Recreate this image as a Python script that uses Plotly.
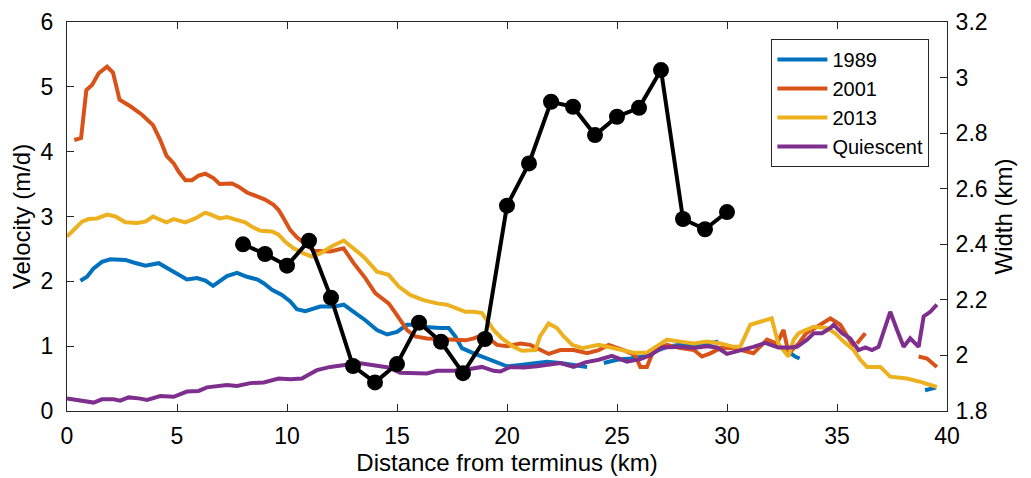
import plotly.graph_objects as go

# ---- data ----
x1989 = [0.61, 0.91, 1.21, 1.59, 1.97, 2.65, 3.03, 3.56, 4.17, 4.7, 5.08, 5.45, 5.91, 6.29, 6.64, 6.97,
         7.27, 7.73, 8.18, 8.64, 8.94, 9.32, 9.77, 10.15, 10.45, 10.83, 11.06, 11.51, 12.12, 12.58, 13.03,
         13.56, 14.09, 14.55, 15.0, 15.45, 15.9, 16.44, 16.97, 17.35, 17.65, 17.95, 18.49, 19.09, 19.55,
         20.0, 20.6, 21.21, 21.82, 22.42, 23.03, 23.64, 24.0, 24.4, 25.0, 25.6, 26.2, 26.74, 27.27, 27.88,
         28.5, 29.09, 29.6, 31.0, 32.9, 33.1, 33.3, 36.0, 39.0, 39.25, 39.5]
v1989 = [2.01, 2.07, 2.20, 2.30, 2.34, 2.33, 2.29, 2.24, 2.28, 2.18, 2.10, 2.03, 2.05, 2.01, 1.93, 2.00,
         2.08, 2.13, 2.07, 2.03, 1.97, 1.87, 1.79, 1.69, 1.57, 1.54, 1.56, 1.61, 1.61, 1.64, 1.53,
         1.40, 1.25, 1.18, 1.22, 1.33, 1.33, 1.29, 1.28, 1.28, 1.15, 0.97, 0.89, 0.81, 0.74,
         0.69, 0.71, 0.73, 0.76, 0.74, 0.71, 0.68, None, 0.74, 0.79, 0.81, 0.84, 0.92, 0.99, 1.02,
         1.02, 1.04, 1.07, None, 0.89, 0.84, 0.81, None, 0.32, 0.34, 0.36]

x2001 = [0.33, 0.64, 0.88, 1.14, 1.44, 1.82, 2.09, 2.39, 2.88, 3.41, 3.91, 4.24, 4.52, 4.85, 5.08, 5.38,
         5.68, 5.98, 6.29, 6.67, 6.94, 7.5, 7.8, 8.18, 8.64, 9.0, 9.39, 9.62, 9.85, 10.15, 10.45, 10.9,
         11.21, 11.97, 12.57, 13.03, 13.56, 14.01, 14.62, 15.0, 15.45, 15.83, 16.36, 16.97, 17.58, 18.11,
         18.49, 18.86, 19.24, 19.55, 20.0, 20.6, 21.06, 21.5, 21.9, 22.42, 23.03, 23.64, 24.17, 24.62,
         25.3, 25.83, 26.06, 26.36, 26.67, 27.27, 27.88, 28.5, 28.86, 29.24, 29.7, 30.3, 30.9, 31.2, 31.82,
         32.27, 32.57, 32.8, 33.25, 33.6, 34.09, 34.7, 35.15, 35.45, 35.76, 35.83, 35.9, 36.29, 37.0,
         38.71, 39.09, 39.54]
v2001 = [4.18, 4.21, 4.95, 5.03, 5.21, 5.31, 5.22, 4.80, 4.70, 4.57, 4.41, 4.18, 3.94, 3.82, 3.69, 3.56,
         3.56, 3.63, 3.66, 3.59, 3.50, 3.51, 3.46, 3.37, 3.31, 3.26, 3.18, 3.10, 2.97, 2.79, 2.68, 2.56,
         2.47, 2.46, 2.51, 2.28, 2.05, 1.82, 1.66, 1.48, 1.25, 1.15, 1.12, 1.11, 1.10, 1.09,
         1.12, 1.17, 1.10, 1.02, 1.00, 1.04, 1.02, 0.94, 0.88, 0.94, 0.94, 0.89, 0.94, 1.02,
         0.94, 0.86, 0.68, 0.68, 0.94, 1.02, 0.97, 0.94, 0.84, 0.89, 0.97, 0.97, 0.92, 0.89, 1.10,
         1.04, 1.25, 0.89, 1.04, 1.20, 1.30, 1.43, 1.33, 1.15, 0.99, None, 1.04, 1.20, None,
         0.84, 0.81, 0.68]

x2013 = [0.0, 0.3, 0.68, 0.98, 1.36, 1.82, 2.2, 2.65, 3.18, 3.56, 3.91, 4.24, 4.52, 4.85, 5.38, 5.83,
         6.29, 6.59, 6.94, 7.27, 7.65, 8.1, 8.41, 8.79, 9.32, 9.62, 9.92, 10.3, 10.76, 11.13, 11.51, 12.04,
         12.58, 13.03, 13.48, 14.09, 14.62, 15.08, 15.6, 16.2, 16.82, 17.27, 17.73, 18.11, 18.49, 18.86,
         19.09, 19.39, 19.77, 20.3, 20.68, 21.29, 21.5, 21.89, 22.27, 22.58, 22.97, 23.42, 24.17, 24.77,
         25.3, 25.76, 26.36, 26.74, 27.27, 27.88, 28.5, 29.09, 29.7, 30.3, 30.6, 31.06, 31.5, 32.03, 32.33,
         32.79, 33.03, 33.26, 33.94, 34.55, 34.92, 35.3, 35.76, 36.06, 36.36, 36.97, 37.42, 38.18, 38.79,
         39.54]
v2013 = [2.69, 2.79, 2.92, 2.96, 2.97, 3.03, 3.00, 2.91, 2.90, 2.92, 3.00, 2.95, 2.91, 2.96, 2.91, 2.97,
         3.06, 3.02, 2.97, 2.99, 2.96, 2.91, 2.84, 2.78, 2.77, 2.72, 2.61, 2.51, 2.43, 2.38, 2.43, 2.54,
         2.63, 2.51, 2.38, 2.15, 2.10, 1.92, 1.79, 1.71, 1.66, 1.64, 1.58, 1.53, 1.53, 1.51,
         1.40, 1.25, 1.12, 0.99, 0.93, 0.94, 1.15, 1.35, 1.28, 1.15, 1.02, 0.97, 1.02, 0.97,
         0.94, 0.90, 0.90, 0.99, 1.10, 1.07, 1.04, 1.07, 1.04, 0.99, 0.99, 1.33, 1.38, 1.43, 1.04,
         0.84, 1.10, 1.20, 1.30, 1.28, 1.20, 1.07, 0.94, 0.79, 0.68, 0.68, 0.53, 0.50, 0.45,
         0.37]

xq = [0.0, 0.61, 1.21, 1.59, 2.12, 2.42, 2.8, 3.26, 3.64, 4.24, 4.85, 5.45, 5.98, 6.36, 6.82, 7.27, 7.73,
      8.33, 8.94, 9.62, 10.15, 10.68, 10.98, 11.36, 11.97, 12.58, 13.26, 13.86, 14.62, 15.15, 15.76,
      16.36, 16.82, 17.58, 18.18, 18.86, 19.39, 19.7, 20.15, 20.76, 21.36, 21.97, 22.42, 23.03, 23.56,
      24.17, 24.77, 25.45, 26.06, 26.52, 27.05, 27.88, 28.5, 29.09, 29.55, 30.0, 30.6, 31.2, 31.73,
      32.33, 32.88, 33.18, 33.64, 33.94, 34.32, 34.7, 34.85, 35.23, 35.6, 35.98, 36.29, 36.59, 36.89,
      37.42, 37.73, 38.03, 38.33, 38.71, 38.94, 39.24, 39.54]
vq = [0.195, 0.17, 0.13, 0.18, 0.18, 0.16, 0.21, 0.195, 0.17, 0.23, 0.22, 0.30, 0.31, 0.365, 0.375, 0.40,
      0.385, 0.43, 0.44, 0.50, 0.49, 0.50, 0.56, 0.63, 0.68, 0.71, 0.74, 0.71, 0.67, 0.59, 0.58,
      0.58, 0.62, 0.62, 0.64, 0.68, 0.62, 0.61, 0.68, 0.67, 0.69, 0.72, 0.74, 0.68, 0.75,
      0.79, 0.85, 0.76, 0.80, 0.86, 0.98, 0.99, 0.97, 1.00, 0.98, 0.88, 0.93, 0.99, 1.05,
      0.98, 0.98, 0.99, 1.10, 1.20, 1.20, 1.28, 1.33, 1.20, 1.12, 0.94, 0.98, 0.94, 0.99,
      1.53, 1.25, 0.99, 1.12, 0.99, 1.46, 1.53, 1.64]

x_width = list(range(8, 31))
width_km = [2.40, 2.365, 2.323, 2.413, 2.208, 1.962, 1.903, 1.969, 2.118, 2.049, 1.936, 2.059, 2.539,
            2.691, 2.913, 2.895, 2.793, 2.859, 2.891, 3.027, 2.491, 2.454, 2.516]

x_ticks = [0, 5, 10, 15, 20, 25, 30, 35, 40]
v_ticks = [0, 1, 2, 3, 4, 5, 6]
w_ticks = [1.8, 2.0, 2.2, 2.4, 2.6, 2.8, 3.0, 3.2]
w_labels = ["1.8", "2", "2.2", "2.4", "2.6", "2.8", "3", "3.2"]

series = [("1989", x1989, v1989, "#0072BD"),
          ("2001", x2001, v2001, "#D95319"),
          ("2013", x2013, v2013, "#EDB120"),
          ("Quiescent", xq, vq, "#7E2F8E")]

FONT = "Liberation Sans"
AX = "#262626"
TICK_FS = 23
TITLE_FS = 24
LEG_FS = 20

fig = go.Figure()
for name, xs, ys, col in series:
    fig.add_trace(go.Scatter(x=xs, y=ys, name=name, mode="lines",
                             line=dict(color=col, width=4), connectgaps=False))

fig.add_trace(go.Scatter(x=x_width, y=width_km, yaxis="y2", mode="lines+markers",
                         line=dict(color="black", width=4),
                         marker=dict(color="black", size=16),
                         showlegend=False, name="Width"))

# page body adds an 8px margin; compensate so the plot area lands where the reference's does
fig.update_layout(
    width=1031, height=478,
    margin=dict(l=59, r=92, t=14, b=75),
    plot_bgcolor="white", paper_bgcolor="white",
    font=dict(family=FONT, size=TICK_FS, color="black"),
    xaxis=dict(range=[0, 40], tickvals=x_ticks, ticks="inside", ticklen=7, tickcolor=AX,
               showline=True, linecolor=AX, linewidth=1, mirror="ticks", showgrid=False,
               zeroline=False, automargin=False, ticklabelstandoff=4,
               title=dict(text="Distance from terminus (km)", standoff=3,
                          font=dict(size=TITLE_FS)),
               tickfont=dict(size=TICK_FS)),
    yaxis=dict(range=[0, 6], tickvals=v_ticks, ticks="inside", ticklen=7, tickcolor=AX,
               showline=True, linecolor=AX, linewidth=1, showgrid=False, zeroline=False,
               automargin=False, ticklabelstandoff=8,
               title=dict(text="Velocity (m/d)", standoff=6, font=dict(size=TITLE_FS)),
               tickfont=dict(size=TICK_FS)),
    yaxis2=dict(range=[1.8, 3.2], tickvals=w_ticks, ticktext=w_labels, overlaying="y",
                side="right", ticks="inside", ticklen=7, tickcolor=AX, showline=True,
                linecolor=AX, linewidth=1, showgrid=False, zeroline=False, automargin=False,
                ticklabelstandoff=3,
                title=dict(text="Width (km)", standoff=8, font=dict(size=TITLE_FS)),
                tickfont=dict(size=TICK_FS)),
    legend=dict(x=0.980, y=0.956, xanchor="right", yanchor="top",
                bgcolor="white", bordercolor=AX, borderwidth=1,
                font=dict(size=LEG_FS, family=FONT), tracegroupgap=0, itemwidth=50),
    showlegend=True,
)

fig.write_html("out.html")
